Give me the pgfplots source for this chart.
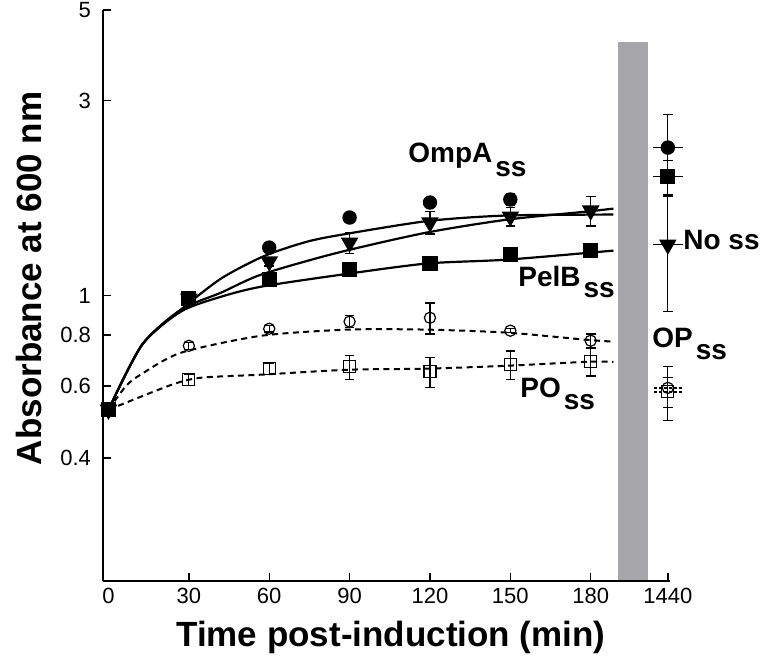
\documentclass[border=0pt]{standalone}
\usepackage{fontspec}
\setmainfont{Liberation Sans}
\usepackage{pgfplots}
\pgfplotsset{compat=1.18}
\definecolor{bandgray}{HTML}{A6A6AA}

\pgfplotsset{
  fitline/.style={black, line width=1.1pt, smooth, tension=0.45, mark=none},
  fitdash/.style={black, line width=1pt, smooth, tension=0.45, mark=none, dash pattern=on 3pt off 2.2pt},
  pts/.style={black, only marks, line width=0.6pt,
    error bars/y dir=both, error bars/y explicit,
    error bars/error bar style={line width=0.6pt, solid},
    error bars/error mark options={rotate=90, line width=0.6pt, mark size=2.4pt, solid}},
}

\newcommand{\lab}[2]{#1\hspace{1.5pt}\raisebox{#2}{ss}}

\begin{document}
\begin{tikzpicture}
\begin{axis}[
  name=ax,
  scale only axis,
  width=283.5pt, height=285.5pt,
  xmin=-2.05, xmax=209.6,
  ymode=log, ymin=0.2, ymax=5,
  axis x line*=bottom, axis y line*=left,
  axis line style={line width=0.8pt},
  axis on top,
  tick align=inside,
  major tick length=4pt,
  tick style={line width=0.7pt, black},
  xtick={30,60,90,120,150,180,208.8},
  xticklabels={30,60,90,120,150,180,1440},
  extra x ticks={0}, extra x tick labels={0},
  extra x tick style={major tick length=0pt},
  ytick={0.4,0.6,0.8,1,3,5},
  yticklabels={0.4,0.6,0.8,1,3,5},
  yminorticks=false,
  tick label style={font=\fontsize{11}{11}\selectfont},
  yticklabel style={xshift=-2.5pt},
  xlabel={Time post-induction (min)},
  ylabel={Absorbance at 600 nm},
  label style={font=\fontsize{17.5}{17.5}\selectfont\bfseries},
  xlabel style={at={(axis description cs:0.5,0)}, anchor=base, yshift=-33pt, xshift=2.2pt},
  ylabel style={at={(axis description cs:-0.1076,0.53)}, anchor=base},
  clip=false,
]
% grey band separating 0-180 min from 1440 min
\addplot[fill=bandgray, draw=none] coordinates {(190.1,0.2) (190.1,4.17) (201.3,4.17) (201.3,0.2)};

% fitted curves
\addplot[fitline] coordinates {(0,0.525) (12.5,0.757) (27,0.923) (42,1.10) (57,1.24) (70,1.33) (82,1.39) (118.6,1.52) (148.9,1.57) (188.5,1.578)};
\addplot[fitline] coordinates {(0,0.525) (12.5,0.757) (27,0.923) (42,1.016) (57,1.125) (85,1.27) (118.6,1.425) (148.9,1.534) (178.5,1.605) (188.5,1.632)};
\addplot[fitline] coordinates {(0,0.525) (12.5,0.757) (27,0.913) (42,0.993) (57,1.051) (85,1.12) (118.6,1.197) (148.9,1.224) (188.5,1.288)};
\addplot[fitdash] coordinates {(0,0.525) (6.5,0.60) (12,0.64) (27,0.724) (57,0.797) (89.5,0.825) (118.6,0.825) (148.9,0.811) (178.5,0.779) (188.5,0.771)};
\addplot[fitdash] coordinates {(0,0.525) (23.4,0.604) (34.6,0.629) (57,0.640) (89.5,0.658) (118.6,0.662) (148.9,0.673) (178.5,0.688) (188.5,0.688)};

% OmpA ss
\addplot[pts, mark=*, mark size=3.3pt] coordinates {
  (0,0.525) +- (0,0.02) (30,0.982) +- (0,0.03) (60,1.310) +- (0,0.03)
  (90,1.552) +- (0,0.04) (120,1.689) +- (0,0.04) (150,1.718) +- (0,0.06)
  (208.8,2.302) += (0,0.47) -= (0,0.38)};
% No ss
\addplot[pts, mark=triangle*, mark size=4.5pt, mark options={rotate=180}] coordinates {
  (0,0.525) +- (0,0.01) (30,0.982) +- (0,0.02) (60,1.211) +- (0,0.03)
  (90,1.347) +- (0,0.08) (120,1.509) +- (0,0.095) (150,1.560) +- (0,0.08)
  (180,1.614) +- (0,0.135) (208.8,1.332) +- (0,0.42)};
% PelB ss
\addplot[pts, mark=square*, mark size=3.5pt] coordinates {
  (0,0.525) +- (0,0.02) (30,0.982) +- (0,0.03) (60,1.093) +- (0,0.04)
  (90,1.157) +- (0,0.03) (120,1.197) +- (0,0.04) (150,1.259) +- (0,0.03)
  (180,1.288) +- (0,0.03) (208.8,1.955) +- (0,0.19)};
% OP ss
\addplot[pts, mark=o, mark size=2.8pt] coordinates {
  (0,0.525) +- (0,0.01) (30,0.753) +- (0,0.015) (60,0.829) +- (0,0.015)
  (90,0.863) +- (0,0.03) (120,0.882) +- (0,0.077) (150,0.820) +- (0,0.01)
  (180,0.775) +- (0,0.03) (208.8,0.594) += (0,0.075) -= (0,0.10)};
% PO ss
\addplot[pts, mark=square, mark size=3pt] coordinates {
  (0,0.525) +- (0,0.01) (30,0.622) +- (0,0.02) (60,0.662) +- (0,0.02)
  (90,0.669) +- (0,0.045) (120,0.651) +- (0,0.055) (150,0.677) +- (0,0.054)
  (180,0.688) +- (0,0.053) (208.8,0.581) +- (0,0.05)};

% horizontal bars on the 1440 min points
\addplot[only marks, mark=-, mark size=7.5pt, mark options={line width=0.8pt}] coordinates {(208.8,2.302) (208.8,1.955) (208.8,1.332)};
\addplot[only marks, mark=-, mark size=7pt, mark options={line width=0.8pt, dash pattern=on 1.5pt off 1pt}] coordinates {(208.8,0.594) (208.8,0.581)};
\end{axis}

\begin{scope}[font=\fontsize{14}{14}\selectfont\bfseries]
\node[anchor=base west, inner sep=0] at (152.5pt,209pt) {\lab{OmpA}{-7pt}};
\node[anchor=base west, inner sep=0] at (207.5pt,147pt) {\lab{PelB}{-5.5pt}};
\node[anchor=base west, inner sep=0] at (208.5pt,91.5pt) {\lab{PO}{-6pt}};
\node[anchor=base west, inner sep=0] at (290pt,165.5pt) {No ss};
\node[anchor=base west, inner sep=0] at (274.5pt,116.5pt) {\lab{OP}{-6pt}};
\end{scope}

\pgfresetboundingbox
\useasboundingbox (-51.5pt,-37.5pt) rectangle (329pt,290.5pt);
\end{tikzpicture}
\end{document}
